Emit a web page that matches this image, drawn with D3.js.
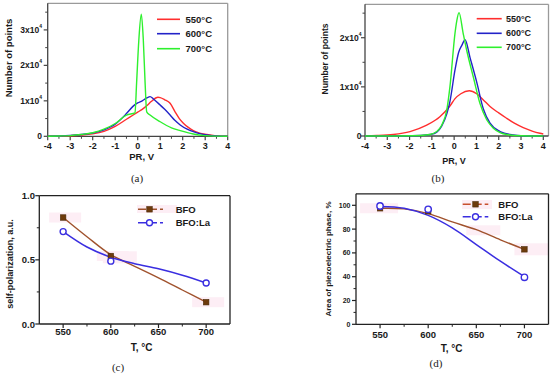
<!DOCTYPE html>
<html><head><meta charset="utf-8">
<script src="https://cdn.jsdelivr.net/npm/d3@7"></script>
<style>
body{margin:0;background:#fff;}
svg{display:block;font-family:"Liberation Sans",Arial,sans-serif;}
</style></head>
<body><svg id="c" width="550" height="374"></svg>
<script>
// ---------- DATA ----------
// Panel (a): PR distributions (counts in units of 1e4)
const a550V = [-4,-3.5,-3,-2.5,-2,-1.5,-1,-0.5,-0.2,0,0.2,0.4,0.6,0.8,0.9,1.0,1.2,1.44,1.66,1.85,2.03,2.25,2.47,2.75,3.07,3.5,4];
const a550N = [0,0.005,0.015,0.035,0.07,0.14,0.28,0.48,0.6,0.68,0.76,0.86,0.98,1.08,1.1,1.09,1.03,0.93,0.69,0.5,0.37,0.25,0.16,0.09,0.05,0.01,0];
const a600V = [-4,-3.5,-3,-2.5,-2,-1.5,-1,-0.5,-0.2,0,0.2,0.4,0.55,0.7,1.0,1.2,1.44,1.65,1.89,2.2,2.47,2.8,3.07,3.5,4];
const a600N = [0,0.01,0.025,0.05,0.09,0.18,0.34,0.64,0.85,0.94,1.0,1.08,1.12,1.05,0.88,0.76,0.6,0.45,0.32,0.2,0.13,0.07,0.04,0.01,0];
const a700V = [-4,-3.5,-3,-2.5,-2,-1.5,-1,-0.5,-0.12,-0.05,0.05,0.16,0.25,0.33,0.4,0.55,1.0,1.5,1.89,2.47,3,3.5,4];
const a700N = [0,0.01,0.02,0.05,0.1,0.2,0.36,0.6,0.66,1.49,2.71,3.44,2.71,1.49,0.69,0.6,0.41,0.24,0.16,0.065,0.02,0.005,0];
// Panel (b)
const b550V = [-4,-3.47,-2.73,-1.98,-1.23,-0.64,-0.19,0.04,0.3,0.68,1.01,1.3,1.61,2.0,2.36,2.7,3.1,3.5,3.85,4];
const b550N = [0.005,0.01,0.03,0.09,0.22,0.39,0.61,0.76,0.86,0.92,0.86,0.74,0.6,0.47,0.36,0.26,0.17,0.1,0.055,0.04];
const b600V = [-4,-3,-2,-1.5,-1.08,-0.78,-0.56,-0.33,-0.19,0.04,0.2,0.35,0.49,0.71,1.01,1.31,1.61,2.06,2.65,3,4];
const b600N = [0,0,0.005,0.01,0.03,0.08,0.2,0.45,0.7,1.35,1.7,1.85,1.96,1.6,1.1,0.55,0.26,0.09,0.02,0.005,0];
const b700V = [-4,-3,-2,-1.5,-1.08,-0.78,-0.56,-0.33,-0.19,0.04,0.12,0.22,0.4,0.56,0.86,1.16,1.46,1.76,2.06,2.36,3,4];
const b700N = [0,0,0.005,0.01,0.03,0.09,0.22,0.53,1.0,2.1,2.35,2.51,2.1,1.75,1.2,0.66,0.33,0.16,0.07,0.03,0.005,0];
const distTicksX = [-4,-3,-2,-1,0,1,2,3,4];
const aTicksY = [0,1,2,3];
const bTicksY = [0,1,2];
const tempLabels = ["550°C","600°C","700°C"];
// Panel (c): self-polarization
const tempsPts = [550,600,700];
const cBFO = [0.83,0.53,0.17];
const cBFOLa = [0.72,0.49,0.32];
const fitT = [550,575,600,625,650,675,700];
const cBFOFit = [0.83,0.68,0.54,0.45,0.36,0.265,0.17];
const cBFOLaFit = [0.72,0.6,0.52,0.47,0.43,0.38,0.32];
const cTicksY = [0,0.5,1.0];
// Panel (d): area of piezoelectric phase
const dBFO = [97.5,95,63];
const dBFOLa = [99.4,96.6,39.5];
const dBFOFit = [97.5,97,93,86,79.5,71,63];
const dBFOLaFit = [99,97.5,91.5,81,67,53,40];
const dTicksY = [0,20,40,60,80,100];
const tTicksX = [550,600,650,700];
const seriesNames = ["BFO","BFO:La"];

// ---------- DRAW ----------
const svg = d3.select("#c");
const colRed="#ff2e2e", colBlue="#2323c8", colGreen="#2ef02e";
const brown="#a0522d", brownFill="#6e3b0c", blueLa="#3a2ee0";

function frame(x0,x1,y0,y1,axisCol,borderCol,w){
  svg.append("line").attr("x1",x0).attr("x2",x1).attr("y1",y0).attr("y2",y0).attr("stroke",borderCol).attr("stroke-width",w);
  svg.append("line").attr("x1",x1).attr("x2",x1).attr("y1",y0).attr("y2",y1).attr("stroke",borderCol).attr("stroke-width",w);
  svg.append("line").attr("x1",x0).attr("x2",x1).attr("y1",y1).attr("y2",y1).attr("stroke",axisCol).attr("stroke-width",w);
  svg.append("line").attr("x1",x0).attr("x2",x0).attr("y1",y0).attr("y2",y1).attr("stroke",axisCol).attr("stroke-width",w);
}
function ticksX(x,y1,vals,minor,col,lab,fs,ly){
  const g=svg.append("g");
  minor.forEach(v=>g.append("line").attr("x1",x(v)).attr("x2",x(v)).attr("y1",y1).attr("y2",y1+2.5).attr("stroke",col).attr("stroke-width",1));
  vals.forEach(v=>g.append("line").attr("x1",x(v)).attr("x2",x(v)).attr("y1",y1).attr("y2",y1+4).attr("stroke",col).attr("stroke-width",1.2));
  if(lab) vals.forEach((v,i)=>g.append("text").attr("x",x(v)).attr("y",ly).attr("text-anchor","middle")
     .attr("dominant-baseline","central").attr("font-size",fs).attr("font-weight","bold").attr("fill","#1a1a1a").text(lab(v,i)));
}
function ticksY(y,x0,vals,minor,col,fs,lx,fmt){
  const g=svg.append("g");
  minor.forEach(v=>g.append("line").attr("x1",x0-2.5).attr("x2",x0).attr("y1",y(v)).attr("y2",y(v)).attr("stroke",col).attr("stroke-width",1));
  vals.forEach(v=>g.append("line").attr("x1",x0-4).attr("x2",x0).attr("y1",y(v)).attr("y2",y(v)).attr("stroke",col).attr("stroke-width",1.2));
  vals.forEach((v,i)=>{
    const t=g.append("text").attr("x",lx).attr("y",y(v)).attr("text-anchor","end").attr("dominant-baseline","central")
      .attr("font-size",fs).attr("font-weight","bold").attr("fill","#1a1a1a");
    fmt(t,v,i);
  });
}
function sciFmt(t,v){
  if(v===0){t.text("0");return;}
  t.append("tspan").text(v+"x10");
  t.append("tspan").attr("font-size",5).attr("dy",-4).text("4");
}
function ylabel(x,y,txt,fs){
  svg.append("text").attr("transform",`translate(${x},${y}) rotate(-90)`).attr("text-anchor","middle")
    .attr("dominant-baseline","central").attr("font-size",fs).attr("font-weight","bold").attr("fill","#1a1a1a").text(txt);
}
function label(x,y,txt,fs){
  return svg.append("text").attr("x",x).attr("y",y).attr("text-anchor","middle").attr("dominant-baseline","central")
    .attr("font-size",fs).attr("font-weight","bold").attr("fill","#1a1a1a").text(txt);
}
function panelLabel(x,y,txt){
  svg.append("text").attr("x",x).attr("y",y).attr("text-anchor","middle").attr("dominant-baseline","central")
    .attr("font-size",11).attr("font-family","Liberation Serif, serif").attr("fill","#222").text(txt);
}
function curve(x,y,V,N,col,w,c){
  const line=d3.line().x((d,i)=>x(V[i])).y((d,i)=>y(N[i])).curve(c||d3.curveMonotoneX);
  svg.append("path").attr("d",line(V)).attr("fill","none").attr("stroke",col).attr("stroke-width",w||1.4).attr("stroke-linejoin","round");
}
const minorDist=[-3.5,-2.5,-1.5,-0.5,0.5,1.5,2.5,3.5];

// ===== Panel (a) =====
{
  const x=d3.scaleLinear().domain([-4,4]).range([47.7,227.7]);
  const y=d3.scaleLinear().domain([0,3.75]).range([136.3,3.3]);
  frame(47.7,227.7,3.3,136.3,"#444","#9a9a9a",1.3);
  ticksX(x,136.3,distTicksX,minorDist,"#444",v=>String(v),9,145.5);
  ticksY(y,47.7,aTicksY,[0.5,1.5,2.5,3.5],"#444",8.5,42,sciFmt);
  curve(x,y,a550V,a550N,colRed);
  curve(x,y,a600V,a600N,colBlue);
  curve(x,y,a700V,a700N,colGreen);
  [colRed,colBlue,colGreen].forEach((c,i)=>{
    const yy=[19.3,33.7,48.7][i];
    svg.append("line").attr("x1",157).attr("x2",180).attr("y1",yy).attr("y2",yy).attr("stroke",c).attr("stroke-width",1.6);
    svg.append("text").attr("x",185.5).attr("y",yy).attr("dominant-baseline","central").attr("font-size",9.5)
      .attr("font-weight","bold").attr("fill","#1a1a1a").text(tempLabels[i]);
  });
  ylabel(8.5,58,"Number of points",9.5);
  label(141.7,156.5,"PR, V",9.5);
  panelLabel(137,178,"(a)");
}
// ===== Panel (b) =====
{
  const x=d3.scaleLinear().domain([-4,4]).range([365,543.3]);
  const y=d3.scaleLinear().domain([0,2.68]).range([136,4.3]);
  frame(365,548.5,4.3,136,"#444","#9a9a9a",1.3);
  ticksX(x,136,distTicksX,minorDist,"#444",v=>String(v),9,145.5);
  ticksY(y,365,bTicksY,[0.5,1.5,2.5],"#444",8.5,361.5,sciFmt);
  curve(x,y,b550V,b550N,colRed);
  curve(x,y,b600V,b600N,colBlue);
  curve(x,y,b700V,b700N,colGreen);
  [colRed,colBlue,colGreen].forEach((c,i)=>{
    const yy=[18.7,33.3,47.3][i];
    svg.append("line").attr("x1",476.7).attr("x2",501.7).attr("y1",yy).attr("y2",yy).attr("stroke",c).attr("stroke-width",1.6);
    svg.append("text").attr("x",506).attr("y",yy).attr("dominant-baseline","central").attr("font-size",9)
      .attr("font-weight","bold").attr("fill","#1a1a1a").text(tempLabels[i]);
  });
  ylabel(325,59,"Number of points",8.6);
  label(454,161,"PR, V",9);
  panelLabel(438,178,"(b)");
}
function pink(x,y,w,h){
  svg.append("rect").attr("x",x).attr("y",y).attr("width",w).attr("height",h).attr("fill","#fdeef5");
}
function square(x,y,s){
  svg.append("rect").attr("x",x-s/2).attr("y",y-s/2).attr("width",s).attr("height",s).attr("fill",brownFill).attr("stroke","#4a2a08").attr("stroke-width",0.6);
}
function circ(x,y,r){
  svg.append("circle").attr("cx",x).attr("cy",y).attr("r",r).attr("fill","#fff").attr("stroke",blueLa).attr("stroke-width",1.4);
}
// ===== Panel (c) =====
{
  const x=d3.scaleLinear().domain([525,725]).range([39.3,230]);
  const y=d3.scaleLinear().domain([0,1]).range([324,195.7]);
  tempsPts.forEach((t,i)=>pink(x(t)-14,y(cBFO[i])-5,32,10));
  pink(x(600)-8,y(0.52)-6,34,12);
  pink(137,205,40,8);
  frame(39.3,230,195.7,324,"#222","#222",1.3);
  ticksX(x,324,tTicksX,[575,625,675],"#222",v=>String(v),9.5,331.7);
  ticksY(y,39.3,cTicksY,[0.25,0.75],"#222",9.5,35,(t,v)=>t.text(v.toFixed(1)));
  curve(x,y,fitT,cBFOFit,brown,1.4,d3.curveCatmullRom);
  curve(x,y,fitT,cBFOLaFit,blueLa,1.5,d3.curveCatmullRom);
  tempsPts.forEach((t,i)=>square(x(t),y(cBFO[i]),5.5));
  tempsPts.forEach((t,i)=>circ(x(t),y(cBFOLa[i]),3));
  svg.append("line").attr("x1",138).attr("x2",163).attr("y1",209.3).attr("y2",209.3).attr("stroke",brown).attr("stroke-width",1.4).attr("stroke-dasharray","8,3");
  square(149.5,209.3,5.5);
  svg.append("line").attr("x1",138).attr("x2",163).attr("y1",222.7).attr("y2",222.7).attr("stroke",blueLa).attr("stroke-width",1.4).attr("stroke-dasharray","8,3");
  circ(149.5,222.7,3);
  seriesNames.forEach((s,i)=>svg.append("text").attr("x",175.7).attr("y",[209.3,222.7][i]).attr("dominant-baseline","central")
    .attr("font-size",9.5).attr("font-weight","bold").attr("fill","#1a1a1a").text(s));
  ylabel(10,264,"self-polarization, a.u.",9);
  label(141.7,347,"T, °C",10);
  panelLabel(118,366.5,"(c)");
}
// ===== Panel (d) =====
{
  const x=d3.scaleLinear().domain([525,725]).range([356,548.5]);
  const y=d3.scaleLinear().domain([0,110]).range([324.3,193.4]);
  pink(x(550)-20,y(97.5)-5,38,10);
  pink(x(700)-10,y(63)-6,34,12);
  pink(x(650)-10,y(79)-5,34,10);
  pink(462,200,30,9);
  frame(356,548.5,193.8,324.3,"#222","#222",1.3);
  ticksX(x,324.3,tTicksX,[575,625,675],"#222",v=>String(v),9.5,334);
  ticksY(y,356,dTicksY,[10,30,50,70,90],"#222",7,350.5,(t,v)=>t.text(String(v)));
  curve(x,y,fitT,dBFOFit,brown,1.4,d3.curveCatmullRom);
  curve(x,y,fitT,dBFOLaFit,blueLa,1.5,d3.curveCatmullRom);
  tempsPts.forEach((t,i)=>square(x(t),y(dBFO[i]),5.5));
  tempsPts.forEach((t,i)=>circ(x(t),y(dBFOLa[i]),3.2));
  svg.append("line").attr("x1",462.7).attr("x2",488.3).attr("y1",204.3).attr("y2",204.3).attr("stroke","#c8502d").attr("stroke-width",1.4).attr("stroke-dasharray","8,3");
  square(475.5,204.3,5.5);
  svg.append("line").attr("x1",462.7).attr("x2",488.3).attr("y1",216.7).attr("y2",216.7).attr("stroke",blueLa).attr("stroke-width",1.4).attr("stroke-dasharray","8,3");
  circ(475.5,216.7,3);
  seriesNames.forEach((s,i)=>svg.append("text").attr("x",498.3).attr("y",[204.3,216.7][i]).attr("dominant-baseline","central")
    .attr("font-size",9.5).attr("font-weight","bold").attr("fill","#1a1a1a").text(s));
  ylabel(328.5,259,"Area of piezoelectric phase, %",8);
  label(451.7,348,"T, °C",10);
  panelLabel(436,363,"(d)");
}
</script></body></html>
